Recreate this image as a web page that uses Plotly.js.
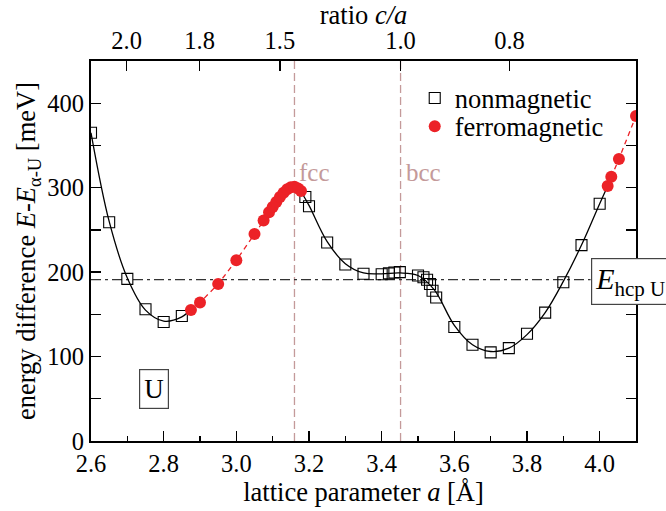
<!DOCTYPE html>
<html>
<head>
<meta charset="utf-8">
<script src="https://cdn.plot.ly/plotly-3.0.1.min.js"></script>
<style>
  html, body { margin: 0; padding: 0; background: #fff; }
  #chart { width: 666px; height: 511px; }
</style>
</head>
<body>
<div id="chart"></div>
<script>
// Nonmagnetic total energies (open squares), lattice parameter a [Å] vs E - E(alpha-U) [meV]
const nonmagA = [2.60, 2.65, 2.70, 2.75, 2.80, 2.85, 3.19, 3.20, 3.25, 3.30, 3.35, 3.40, 3.42, 3.435, 3.45,
                 3.50, 3.515, 3.525, 3.533, 3.54, 3.55, 3.60, 3.65, 3.70, 3.75, 3.80, 3.85, 3.90, 3.95, 4.00];
const nonmagE = [365, 259, 192, 156, 141, 148, 289, 278, 235, 209, 198, 197.5, 198.5, 199.5, 200,
                 196, 194, 191, 186, 178, 170, 135, 114, 105, 110, 127, 152, 188, 232, 281];

// Fitted nonmagnetic curve (two branches)
const fitLeftA  = [2.60, 2.65, 2.70, 2.75, 2.80, 2.85, 2.875];
const fitLeftE  = [365, 260, 193, 155, 142, 147, 156];
const fitRightA = [3.18, 3.20, 3.25, 3.30, 3.35, 3.40, 3.45, 3.50, 3.545, 3.60, 3.65, 3.70, 3.75, 3.80, 3.85, 3.90, 3.95, 4.00, 4.022];
const fitRightE = [294, 279, 236, 210, 199, 198, 199, 196, 179, 137, 114, 106, 110, 126, 152, 189, 232, 281, 302];

// Ferromagnetic energies (filled circles)
const ferroLeftA  = [2.875, 2.90, 2.95, 3.00, 3.05, 3.075, 3.09, 3.10, 3.11, 3.12, 3.13, 3.14, 3.15, 3.16, 3.17, 3.178];
const ferroLeftE  = [155, 164, 186, 214, 245, 261, 271, 277, 283, 289, 294, 298, 300.5, 301, 299, 296];
const ferroRightA = [4.022, 4.032, 4.053, 4.10];
const ferroRightE = [302, 313, 334, 385];

// Top axis: c/a ratio marks located at lattice parameters
const ratioTickA    = [2.698, 2.899, 3.12, 3.452, 3.752];
const ratioTickText = ['2.0', '1.8', '1.5', '1.0', '0.8'];

// Reference structures and hcp energy level
const fccA = 3.16;
const bccA = 3.452;
const hcpE = 191;
const hcpLineEndA = 3.975;

const serif = "'Liberation Serif', 'Times New Roman', serif";
const red = '#ec2227';
const rosy = '#c49a9a';

const traces = [
  { x: fitLeftA, y: fitLeftE, mode: 'lines', line: { color: '#000', width: 1.3, shape: 'spline' },
    showlegend: false, hoverinfo: 'skip' },
  { x: fitRightA, y: fitRightE, mode: 'lines', line: { color: '#000', width: 1.3, shape: 'spline' },
    showlegend: false, hoverinfo: 'skip' },
  { x: ferroLeftA, y: ferroLeftE, mode: 'lines', line: { color: red, width: 1.3, dash: '5px,4px' },
    showlegend: false, hoverinfo: 'skip' },
  { x: ferroRightA, y: ferroRightE, mode: 'lines', line: { color: red, width: 1.3, dash: '5px,4px' },
    showlegend: false, hoverinfo: 'skip' },
  { x: nonmagA, y: nonmagE, mode: 'markers', name: 'nonmagnetic', legend: 'legend',
    marker: { symbol: 'square-open', size: 11, color: '#000', line: { width: 1.1, color: '#000' } } },
  { x: ferroLeftA.concat(ferroRightA), y: ferroLeftE.concat(ferroRightE), mode: 'markers', name: 'ferromagnetic',
    legend: 'legend2', marker: { symbol: 'circle', size: 12, color: red } },
  // carrier for the top c/a axis
  { x: ratioTickA, y: ratioTickA.map(() => null), xaxis: 'x2', mode: 'markers',
    marker: { opacity: 0 }, showlegend: false, hoverinfo: 'skip' }
];

const legendStyle = { xanchor: 'left', yanchor: 'top', bgcolor: 'rgba(0,0,0,0)',
                      font: { family: serif, size: 26.5, color: '#000' }, itemwidth: 30 };

const layout = {
  width: 666, height: 511,
  margin: { l: 91, r: 30, t: 61, b: 70 },
  paper_bgcolor: '#fff', plot_bgcolor: '#fff',
  font: { family: serif, color: '#000', size: 24 },
  showlegend: true,
  legend:  Object.assign({ x: 0.594, y: 0.965 }, legendStyle),
  legend2: Object.assign({ x: 0.594, y: 0.891 }, legendStyle),
  xaxis: {
    range: [2.6, 4.1], dtick: 0.2, tick0: 2.6, tickformat: '.1f',
    ticks: 'inside', ticklen: 10, tickwidth: 1.3, tickcolor: '#000',
    minor: { dtick: 0.1, ticks: 'inside', ticklen: 5, tickwidth: 1.3, tickcolor: '#000' },
    showline: true, linewidth: 2, linecolor: '#000', mirror: false,
    showgrid: false, zeroline: false,
    tickfont: { family: serif, size: 24.5 },
    title: { text: 'lattice parameter <i>a</i> [Å]', font: { family: serif, size: 26.5 }, standoff: 6 }
  },
  xaxis2: {
    overlaying: 'x', side: 'top', range: [2.6, 4.1],
    tickmode: 'array', tickvals: ratioTickA, ticktext: ratioTickText,
    ticks: 'inside', ticklen: 10, tickwidth: 1.3, tickcolor: '#000',
    showline: true, linewidth: 2, linecolor: '#000',
    showgrid: false, zeroline: false,
    tickfont: { family: serif, size: 24.5 },
    title: { text: 'ratio <i>c/a</i>', font: { family: serif, size: 26.5 }, standoff: 6 }
  },
  yaxis: {
    range: [0, 450], dtick: 100, tick0: 0,
    ticks: 'inside', ticklen: 10, tickwidth: 1.3, tickcolor: '#000',
    minor: { dtick: 50, ticks: 'inside', ticklen: 5, tickwidth: 1.3, tickcolor: '#000' },
    showline: true, linewidth: 2, linecolor: '#000', mirror: 'allticks',
    showgrid: false, zeroline: false,
    tickfont: { family: serif, size: 24.5 },
    title: { text: 'energy difference <i>E</i>-<i>E</i><sub>α-U</sub> [meV]', font: { family: serif, size: 26.5 }, standoff: 4 }
  },
  shapes: [
    { type: 'line', xref: 'x', yref: 'paper', x0: fccA, x1: fccA, y0: 0, y1: 1,
      line: { color: rosy, width: 1.3, dash: '8px,4px' }, layer: 'below' },
    { type: 'line', xref: 'x', yref: 'paper', x0: bccA, x1: bccA, y0: 0, y1: 1,
      line: { color: rosy, width: 1.3, dash: '8px,4px' }, layer: 'below' },
    { type: 'line', xref: 'x', yref: 'y', x0: 2.6, x1: hcpLineEndA, y0: hcpE, y1: hcpE,
      line: { color: '#333', width: 1.3, dash: '10px,4px,3px,4px' }, layer: 'below' }
  ],
  annotations: [
    { x: fccA, y: 318, xref: 'x', yref: 'y', text: 'fcc', showarrow: false, xanchor: 'left', xshift: 3,
      font: { family: serif, size: 25, color: rosy } },
    { x: bccA, y: 318, xref: 'x', yref: 'y', text: 'bcc', showarrow: false, xanchor: 'left', xshift: 3,
      font: { family: serif, size: 25, color: rosy } },
    { x: hcpLineEndA, y: hcpE, xref: 'x', yref: 'y', xanchor: 'left', yanchor: 'middle', yshift: -2,
      text: '<i>E</i><sub>hcp U</sub>', showarrow: false,
      font: { family: serif, size: 30, color: '#000' },
      bgcolor: '#fff', bordercolor: '#444', borderwidth: 1.2, borderpad: 3 },
    { x: 2.774, y: 62, xref: 'x', yref: 'y', text: 'U', showarrow: false,
      font: { family: serif, size: 27, color: '#000' },
      bgcolor: '#fff', bordercolor: '#444', borderwidth: 1.2, borderpad: 4 }
  ]
};

Plotly.newPlot('chart', traces, layout, { displayModeBar: false, staticPlot: true });
</script>
</body>
</html>
